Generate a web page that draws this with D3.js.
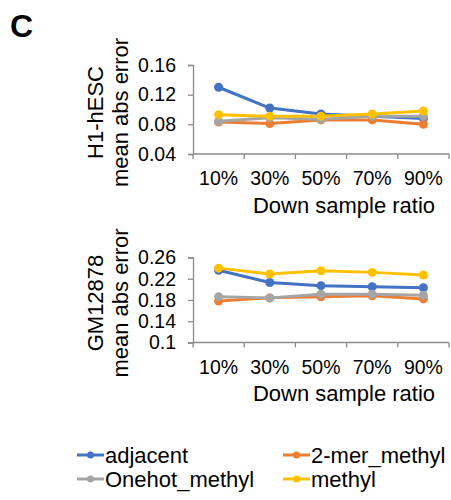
<!DOCTYPE html>
<html lang="en">
<head>
<meta charset="utf-8" />
<title>Down sample ratio vs mean abs error</title>
<script src="https://cdn.jsdelivr.net/npm/d3@7"></script>
<style>
  body { margin: 0; background: #fff; }
  svg text { font-family: "Liberation Sans", Arial, sans-serif; fill: #000; }
</style>
</head>
<body>
<svg width="451" height="500"></svg>
<script>
// categories (x axis)
var categories = ["10%", "30%", "50%", "70%", "90%"];
var seriesNames = ["adjacent", "2-mer_methyl", "Onehot_methyl", "methyl"];
var colors = ["#4472C4", "#ED7D31", "#A5A5A5", "#FFC000"];

// H1-hESC panel
var h1Adjacent = [0.130, 0.102, 0.094, 0.091, 0.088];
var h1TwoMer   = [0.083, 0.081, 0.086, 0.086, 0.080];
var h1Onehot   = [0.084, 0.089, 0.087, 0.091, 0.091];
var h1Methyl   = [0.093, 0.091, 0.091, 0.094, 0.098];
var h1Ticks = [0.04, 0.08, 0.12, 0.16];
var h1TickLabels = ["0.04", "0.08", "0.12", "0.16"];

// GM12878 panel
var gmAdjacent = [0.236, 0.213, 0.207, 0.205, 0.203];
var gmTwoMer   = [0.178, 0.184, 0.186, 0.188, 0.182];
var gmOnehot   = [0.186, 0.184, 0.191, 0.191, 0.189];
var gmMethyl   = [0.240, 0.229, 0.235, 0.232, 0.227];
var gmTicks = [0.1, 0.14, 0.18, 0.22, 0.26];
var gmTickLabels = ["0.1", "0.14", "0.18", "0.22", "0.26"];

var svg = d3.select("svg");
var axisColor = "#8c8c8c";

svg.append("text")
    .attr("x", 10).attr("y", 37)
    .style("font-size", "32px").style("font-weight", "bold")
    .text("C");

function drawPanel(opts) {
    var x = d3.scaleBand().domain(categories).range([193, 449]);
    var y = d3.scaleLinear().domain(opts.domain).range([opts.bottom, opts.top]);
    var g = svg.append("g");

    // y axis
    var yAxis = d3.axisLeft(y)
        .tickValues(opts.ticks)
        .tickFormat(function(d, i) { return opts.tickLabels[i]; })
        .tickSize(5).tickPadding(12);
    var ya = g.append("g").attr("transform", "translate(193,0)").call(yAxis);
    ya.select(".domain").attr("stroke", axisColor).attr("stroke-width", 1.3);
    ya.selectAll(".tick line").attr("stroke", axisColor).attr("stroke-width", 1.3);
    ya.selectAll("text").style("font-size", "19.5px").attr("fill", "#000");

    // x axis: line, ticks between categories, labels centred
    var edges = categories.map(function(c) { return x(c); }).concat([x.range()[1]]);
    g.append("line")
        .attr("x1", x.range()[0]).attr("x2", x.range()[1])
        .attr("y1", opts.bottom).attr("y2", opts.bottom)
        .attr("stroke", axisColor).attr("stroke-width", 1.3);
    g.selectAll(".xtick").data(edges).enter().append("line")
        .attr("x1", function(d) { return d; }).attr("x2", function(d) { return d; })
        .attr("y1", opts.bottom).attr("y2", opts.bottom + 5)
        .attr("stroke", axisColor).attr("stroke-width", 1.3);
    g.selectAll(".xlab").data(categories).enter().append("text")
        .attr("x", function(d) { return x(d) + x.bandwidth() / 2; })
        .attr("y", opts.bottom + 31)
        .attr("text-anchor", "middle")
        .style("font-size", "19.5px")
        .text(function(d) { return d; });

    g.append("text")
        .attr("x", 344).attr("y", opts.bottom + 58.5)
        .attr("text-anchor", "middle")
        .style("font-size", "22px")
        .text("Down sample ratio");

    var cy = (opts.top + opts.bottom) / 2 + 3;
    g.append("text")
        .attr("transform", "translate(103," + cy + ") rotate(-90)")
        .attr("text-anchor", "middle")
        .style("font-size", "22px")
        .text(opts.title);
    g.append("text")
        .attr("transform", "translate(128," + cy + ") rotate(-90)")
        .attr("text-anchor", "middle")
        .style("font-size", "22px")
        .text("mean abs error");

    var line = d3.line()
        .x(function(d, i) { return x(categories[i]) + x.bandwidth() / 2; })
        .y(function(d) { return y(d); });

    opts.series.forEach(function(vals, s) {
        g.append("path")
            .datum(vals)
            .attr("fill", "none")
            .attr("stroke", colors[s])
            .attr("stroke-width", 3)
            .attr("stroke-linejoin", "round")
            .attr("d", line);
        g.selectAll(".pt" + s).data(vals).enter().append("circle")
            .attr("cx", function(d, i) { return x(categories[i]) + x.bandwidth() / 2; })
            .attr("cy", function(d) { return y(d); })
            .attr("r", 4.5)
            .attr("fill", colors[s]);
    });
}

drawPanel({
    title: "H1-hESC", domain: [0.04, 0.16], top: 65, bottom: 154,
    ticks: h1Ticks, tickLabels: h1TickLabels,
    series: [h1Adjacent, h1TwoMer, h1Onehot, h1Methyl]
});
drawPanel({
    title: "GM12878", domain: [0.1, 0.26], top: 257.5, bottom: 342.5,
    ticks: gmTicks, tickLabels: gmTickLabels,
    series: [gmAdjacent, gmTwoMer, gmOnehot, gmMethyl]
});

// legend, 2 x 2
var legendX = [77, 283], legendY = [455, 479];
var legend = svg.append("g");
seriesNames.forEach(function(name, i) {
    var lx = legendX[i % 2], ly = legendY[Math.floor(i / 2)];
    legend.append("line")
        .attr("x1", lx).attr("x2", lx + 27).attr("y1", ly).attr("y2", ly)
        .attr("stroke", colors[i]).attr("stroke-width", 3);
    legend.append("circle")
        .attr("cx", lx + 13.5).attr("cy", ly).attr("r", 3.5)
        .attr("fill", colors[i]);
    legend.append("text")
        .attr("x", lx + 28).attr("y", ly + 8)
        .style("font-size", "22px")
        .text(name);
});
</script>
</body>
</html>
